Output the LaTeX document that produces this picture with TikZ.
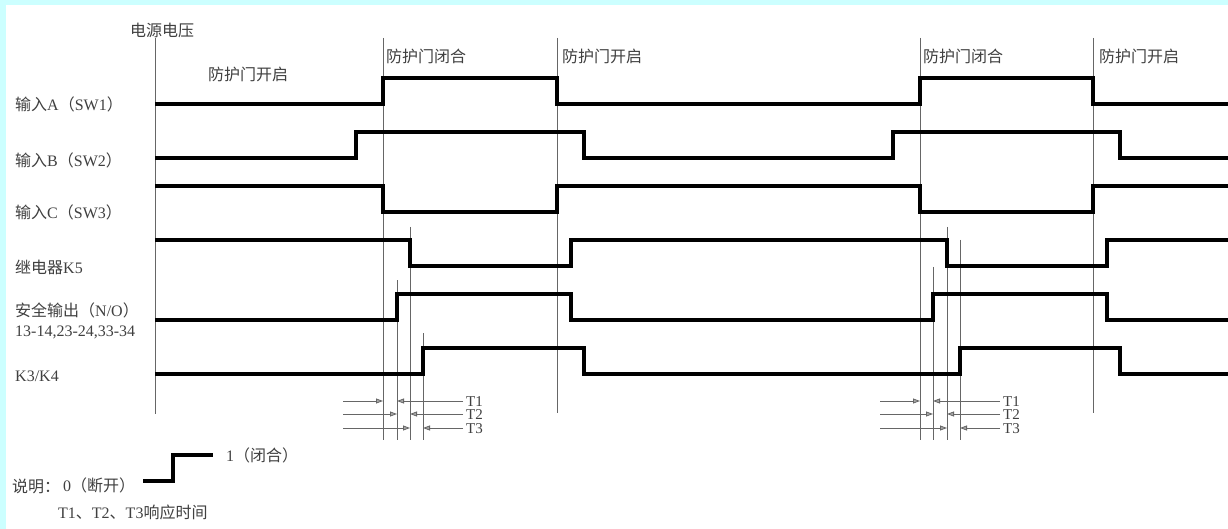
\documentclass[tikz,border=0pt]{standalone}
\usepackage{fontspec}
\setmainfont{Liberation Serif}
\newfontfamily\cjk{Noto Sans CJK SC}
\usetikzlibrary{arrows.meta}
\definecolor{framecyan}{RGB}{204,255,255}
\tikzset{
  wave/.style={line width=4.2pt, line join=miter},
  guide/.style={black!60, line width=0.8pt},
  dim/.style={guide, -{Triangle[length=7pt,width=5pt,fill=black!35]}},
  lbl/.style={anchor=west, inner sep=0pt, text=black!75, font=\fontsize{16}{18}\selectfont},
  tlbl/.style={lbl, font=\fontsize{15}{16}\selectfont, text height=10pt, text depth=0pt}
}
\begin{document}
\begin{tikzpicture}[x=1pt,y=-1pt]

% frame
\fill[framecyan] (0,0) rectangle (1228,529);
\fill[white] (6,5) rectangle (1228,529);
\useasboundingbox (0,0) rectangle (1228,529);

% guide lines
\draw[guide] (155,38) -- (155,414);
\foreach \x in {383,920} \draw[guide] (\x,38) -- (\x,440);
\foreach \x in {557,1093} \draw[guide] (\x,38) -- (\x,413);
\foreach \x/\ytop in {397/280, 410/227, 423/333, 933/267, 947/227, 960/240}
  \draw[guide] (\x,\ytop) -- (\x,440);

% waveforms
\foreach \ys/\yo/\ta/\tb/\tc/\td in {104/78/383/557/920/1093, 158/132/356/584/893/1120,
    186/212/383/557/920/1093, 240/266/410/571/947/1107,
    320/294/397/571/933/1107, 374/348/423/584/960/1120}
  \draw[wave] (155,\ys) -| (\ta,\yo) -| (\tb,\ys) -| (\tc,\yo) -| (\td,\ys) -- (1228,\ys);

% response times
\foreach \y/\i/\xa/\xb in {401/1/383/397, 414/2/397/410, 428/3/410/423}{
  \coordinate (la\i) at (343,\y);
  \coordinate (ra\i) at (463,\y);
  \draw[dim] (la\i) -- (\xa,\y);
  \draw[dim] (ra\i) -- (\xb,\y);
  \node[tlbl] (ta\i) at (466,\y) {T\i};
}
\foreach \y/\i/\xa/\xb in {401/1/920/933, 414/2/933/947, 428/3/947/960}{
  \coordinate (lb\i) at (880,\y);
  \coordinate (rb\i) at (1000,\y);
  \draw[dim] (lb\i) -- (\xa,\y);
  \draw[dim] (rb\i) -- (\xb,\y);
  \node[tlbl] (tb\i) at (1003,\y) {T\i};
}

% texts
\node[lbl] (supply) at (130,30) {\cjk 电源电压};
\node[lbl] (open0) at (208,74) {\cjk 防护门开启};
\node[lbl] (close1) at (386,56) {\cjk 防护门闭合};
\node[lbl] (open1) at (562,56) {\cjk 防护门开启};
\node[lbl] (close2) at (923,56) {\cjk 防护门闭合};
\node[lbl] (open2) at (1099,56) {\cjk 防护门开启};

\node[lbl] (inA) at (15,104) {{\cjk 输入}A{\cjk （}SW1{\cjk ）}};
\node[lbl] (inB) at (15,160) {{\cjk 输入}B{\cjk （}SW2{\cjk ）}};
\node[lbl] (inC) at (15,212) {{\cjk 输入}C{\cjk （}SW3{\cjk ）}};
\node[lbl] (relK5) at (15,267) {{\cjk 继电器}K5};
\node[lbl] (safe) at (15,310) {{\cjk 安全输出（}N/O{\cjk ）}};
\node[lbl] (term) at (15,332) {13-14,23-24,33-34};
\node[lbl] (k34) at (15,376) {K3/K4};

% legend
\draw[wave] (143,481) -| (173,455) -- (213,455);
\node[lbl] (one) at (226,455) {1{\cjk （闭合）}};
\node[lbl] (note) at (12,486) {\cjk 说明：};
\node[lbl] (zero) at (63,485) {0{\cjk （断开）}};
\node[lbl] (resp) at (58,512) {T1{\cjk 、}T2{\cjk 、}T3{\cjk 响应时间}};

\end{tikzpicture}
\end{document}
